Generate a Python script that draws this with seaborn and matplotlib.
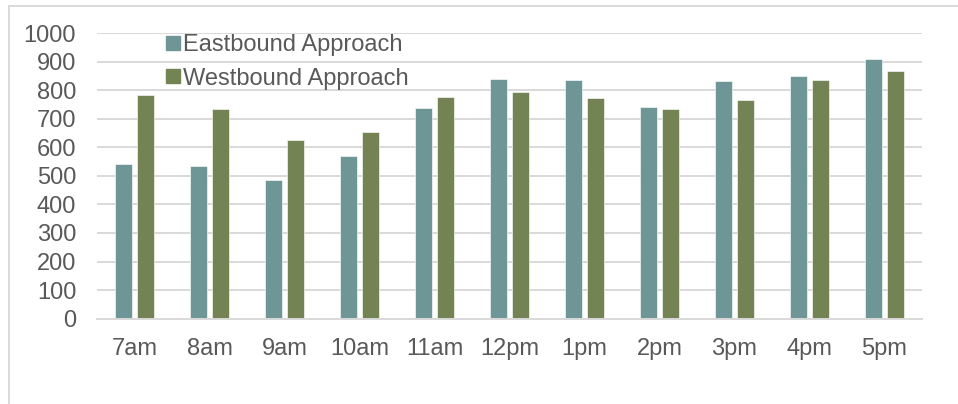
import matplotlib
matplotlib.use("Agg")
import matplotlib.pyplot as plt
from matplotlib.patches import Rectangle
from matplotlib.lines import Line2D
import pandas as pd
import seaborn as sns

# Hourly approach volumes
hours = ["7am", "8am", "9am", "10am", "11am", "12pm", "1pm", "2pm", "3pm", "4pm", "5pm"]
eastbound = [542, 533, 486, 571, 736, 838, 834, 742, 831, 850, 908]
westbound = [782, 734, 626, 654, 777, 794, 774, 735, 766, 836, 866]
series_names = ["Eastbound Approach", "Westbound Approach"]
y_ticks = [0, 100, 200, 300, 400, 500, 600, 700, 800, 900, 1000]

colors = ["#6E9697", "#748353"]
text_gray = "#595959"
grid_gray = "#D9D9D9"

df = pd.DataFrame({
    "hour": hours * 2,
    "volume": eastbound + westbound,
    "approach": [series_names[0]] * len(hours) + [series_names[1]] * len(hours),
})

sns.set_theme(style="white")
plt.rcParams["font.family"] = ["Liberation Sans", "DejaVu Sans"]

fig = plt.figure(figsize=(9.58, 4.04), dpi=100)
ax = fig.add_axes([97 / 958, 1 - 318.7 / 404, 825 / 958, (318.7 - 33) / 404])

sns.barplot(
    data=df, x="hour", y="volume", hue="approach", order=hours,
    hue_order=series_names, palette=colors, width=0.58, gap=0.22,
    saturation=1, edgecolor=(1, 1, 1, 0.6), linewidth=0.7, ax=ax, legend=False,
    errorbar=None,
)

ax.set_ylim(0, 1000)
ax.set_xlim(-0.5, len(hours) - 0.5)
ax.set_yticks(y_ticks)
ax.yaxis.grid(True, color=grid_gray, linewidth=1.4)
ax.set_axisbelow(True)
for side in ["top", "right", "left"]:
    ax.spines[side].set_visible(False)
ax.spines["bottom"].set_color(grid_gray)
ax.spines["bottom"].set_linewidth(1.4)
ax.set_xlabel("")
ax.set_ylabel("")
ax.tick_params(axis="y", length=0, pad=15, labelsize=17, labelcolor=text_gray)
ax.tick_params(axis="x", length=0, pad=14, labelsize=17, labelcolor=text_gray)

handles = [
    Line2D([], [], marker="s", linestyle="none", markersize=10,
           markerfacecolor=c, markeredgecolor=c)
    for c in colors
]
ax.legend(
    handles, series_names, loc="upper left", bbox_to_anchor=(0.07, 1.03),
    frameon=False, fontsize=17, labelcolor=text_gray, handlelength=0.75,
    handletextpad=0.05, labelspacing=0.5, borderaxespad=0,
)

# Light chart-area frame
fig.patches.append(Rectangle(
    (9 / 958, -0.2), 1.2, 1 - 6 / 404 + 0.2, transform=fig.transFigure,
    fill=False, edgecolor=grid_gray, linewidth=1.4, clip_on=False,
))

fig.savefig("out.png", dpi=100)
